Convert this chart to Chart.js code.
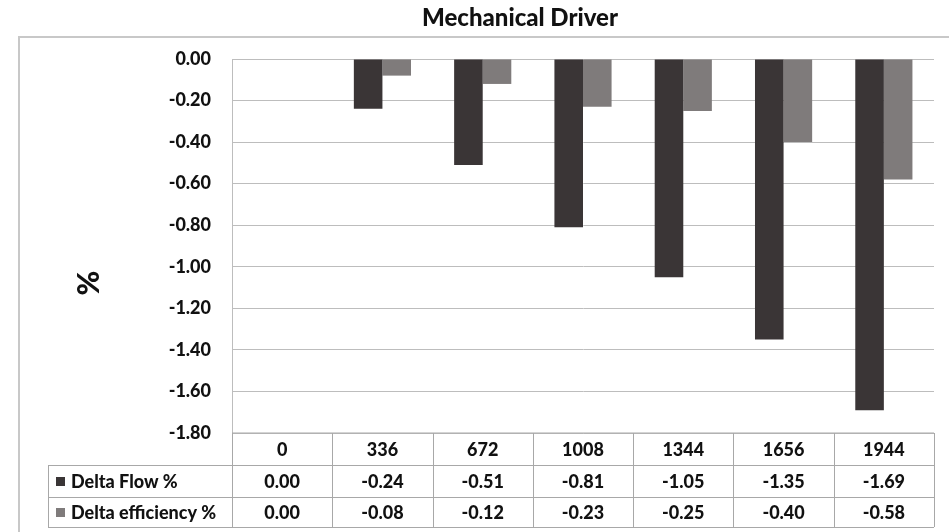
<!DOCTYPE html>
<html>
<head>
<meta charset="utf-8">
<script src="https://cdn.jsdelivr.net/npm/chart.js@4"></script>
<style>
  body { margin: 0; background: #fff; }
  #box { width: 949px; height: 532px; position: relative; }
</style>
</head>
<body>
<div id="box"><canvas id="grafico"></canvas></div>
<script>
// dados
const categorias = ["0", "336", "672", "1008", "1344", "1656", "1944"];
const deltaFlow = [0.00, -0.24, -0.51, -0.81, -1.05, -1.35, -1.69];
const deltaEfficiency = [0.00, -0.08, -0.12, -0.23, -0.25, -0.40, -0.58];
const nomesSeries = ["Delta Flow %", "Delta efficiency %"];
const coresSeries = ["#3a3536", "#7f7b7b"];

const fonte = "Lato, 'DejaVu Sans', sans-serif";

// desenha título, moldura, "%" e a tabela de dados
const tabelaPlugin = {
  id: "tabela",
  afterDraw(chart) {
    const ctx = chart.ctx;
    const x = chart.scales.x;
    const area = chart.chartArea;
    const colW = (area.right - area.left) / categorias.length;
    ctx.save();

    // moldura externa
    ctx.strokeStyle = "#c8c8c8";
    ctx.lineWidth = 2;
    ctx.beginPath();
    ctx.moveTo(19, 532);
    ctx.lineTo(19, 37);
    ctx.lineTo(949, 37);
    ctx.stroke();

    // título
    ctx.fillStyle = "#111";
    ctx.font = "900 24px " + fonte;
    ctx.textAlign = "center";
    ctx.textBaseline = "middle";
    ctx.fillText("Mechanical Driver", 520, 18);

    // título do eixo
    ctx.save();
    ctx.translate(89, 283);
    ctx.rotate(-Math.PI / 2);
    ctx.font = "900 30px " + fonte;
    ctx.fillText("%", 0, 0);
    ctx.restore();

    // tabela
    const rows = [area.bottom, 465, 497, 527];
    const tabLeft = 48;
    ctx.strokeStyle = "#a8a8a8";
    ctx.lineWidth = 1;
    ctx.beginPath();
    ctx.moveTo(area.left, rows[0]); ctx.lineTo(area.right, rows[0]);
    for (let r = 1; r < rows.length; r++) {
      ctx.moveTo(tabLeft, rows[r] + 0.5); ctx.lineTo(area.right, rows[r] + 0.5);
    }
    ctx.moveTo(tabLeft + 0.5, rows[1]); ctx.lineTo(tabLeft + 0.5, rows[3]);
    for (let i = 0; i <= categorias.length; i++) {
      const cx = Math.round(area.left + i * colW) + 0.5;
      ctx.moveTo(cx, rows[0]); ctx.lineTo(cx, rows[3]);
    }
    ctx.stroke();

    ctx.font = "900 18px " + fonte;
    ctx.fillStyle = "#111";
    ctx.textAlign = "center";
    const series = [deltaFlow, deltaEfficiency];
    categorias.forEach((c, i) => {
      const cx = x.getPixelForValue(i);
      ctx.fillText(c, cx, (rows[0] + rows[1]) / 2 + 1);
      series.forEach((s, k) => {
        ctx.fillText(s[i].toFixed(2), cx, (rows[k + 1] + rows[k + 2]) / 2 + 1);
      });
    });

    // legenda dentro da tabela
    ctx.textAlign = "left";
    nomesSeries.forEach((n, k) => {
      const cy = (rows[k + 1] + rows[k + 2]) / 2;
      ctx.fillStyle = coresSeries[k];
      ctx.fillRect(56, cy - 4, 9, 9);
      ctx.fillStyle = "#111";
      ctx.fillText(n, 71, cy + 1);
    });
    ctx.restore();
  }
};

new Chart(document.getElementById("grafico"), {
  type: "bar",
  data: {
    labels: categorias,
    datasets: [
      { label: nomesSeries[0], data: deltaFlow, backgroundColor: coresSeries[0] },
      { label: nomesSeries[1], data: deltaEfficiency, backgroundColor: coresSeries[1] }
    ]
  },
  options: {
    responsive: true,
    maintainAspectRatio: false,
    animation: false,
    layout: { padding: { top: 59, bottom: 99, right: 15, left: 0 } },
    datasets: { bar: { categoryPercentage: 0.57, barPercentage: 1.0 } },
    plugins: {
      legend: { display: false },
      title: { display: false },
      tooltip: { enabled: false }
    },
    scales: {
      x: { display: false },
      y: {
        min: -1.8,
        max: 0,
        afterFit(scale) { scale.width = 232; },
        ticks: {
          stepSize: 0.2,
          padding: 21,
          color: "#111",
          font: { family: fonte, size: 18, weight: "900" },
          callback: v => Number(v).toFixed(2)
        },
        grid: { color: "#bdbdbd", drawTicks: false },
        border: { color: "#bdbdbd" }
      }
    }
  },
  plugins: [tabelaPlugin]
});
</script>
</body>
</html>
